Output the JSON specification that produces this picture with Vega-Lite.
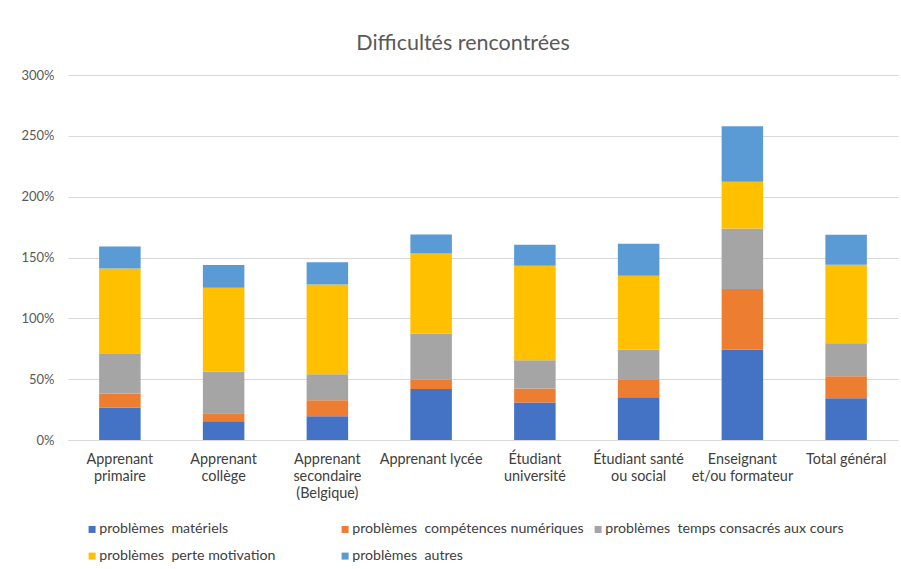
{
  "$schema": "https://vega.github.io/schema/vega-lite/v6.json",
  "width": 830,
  "height": 365,
  "autosize": {"type": "none"},
  "padding": {"left": 68, "top": 75, "right": 3, "bottom": 129},
  "background": "white",
  "title": {
    "text": "Difficultés rencontrées",
    "font": "Lato",
    "fontSize": 21.5,
    "fontWeight": "normal",
    "color": "#595959",
    "anchor": "middle",
    "dx": -20,
    "offset": 15
  },
  "data": {
    "values": [
      {"categorie": "Apprenant\nprimaire", "probleme": "problèmes  matériels", "rang": 1, "valeur": 26.6},
      {"categorie": "Apprenant\nprimaire", "probleme": "problèmes  compétences numériques", "rang": 2, "valeur": 11.6},
      {"categorie": "Apprenant\nprimaire", "probleme": "problèmes  temps consacrés aux cours", "rang": 3, "valeur": 32.4},
      {"categorie": "Apprenant\nprimaire", "probleme": "problèmes  perte motivation", "rang": 4, "valeur": 70.4},
      {"categorie": "Apprenant\nprimaire", "probleme": "problèmes  autres", "rang": 5, "valeur": 18.0},
      {"categorie": "Apprenant\ncollège", "probleme": "problèmes  matériels", "rang": 1, "valeur": 15.4},
      {"categorie": "Apprenant\ncollège", "probleme": "problèmes  compétences numériques", "rang": 2, "valeur": 6.6},
      {"categorie": "Apprenant\ncollège", "probleme": "problèmes  temps consacrés aux cours", "rang": 3, "valeur": 34.3},
      {"categorie": "Apprenant\ncollège", "probleme": "problèmes  perte motivation", "rang": 4, "valeur": 68.9},
      {"categorie": "Apprenant\ncollège", "probleme": "problèmes  autres", "rang": 5, "valeur": 18.7},
      {"categorie": "Apprenant\nsecondaire\n(Belgique)", "probleme": "problèmes  matériels", "rang": 1, "valeur": 19.5},
      {"categorie": "Apprenant\nsecondaire\n(Belgique)", "probleme": "problèmes  compétences numériques", "rang": 2, "valeur": 13.2},
      {"categorie": "Apprenant\nsecondaire\n(Belgique)", "probleme": "problèmes  temps consacrés aux cours", "rang": 3, "valeur": 21.4},
      {"categorie": "Apprenant\nsecondaire\n(Belgique)", "probleme": "problèmes  perte motivation", "rang": 4, "valeur": 73.8},
      {"categorie": "Apprenant\nsecondaire\n(Belgique)", "probleme": "problèmes  autres", "rang": 5, "valeur": 18.1},
      {"categorie": "Apprenant lycée", "probleme": "problèmes  matériels", "rang": 1, "valeur": 42.0},
      {"categorie": "Apprenant lycée", "probleme": "problèmes  compétences numériques", "rang": 2, "valeur": 7.7},
      {"categorie": "Apprenant lycée", "probleme": "problèmes  temps consacrés aux cours", "rang": 3, "valeur": 37.9},
      {"categorie": "Apprenant lycée", "probleme": "problèmes  perte motivation", "rang": 4, "valeur": 65.6},
      {"categorie": "Apprenant lycée", "probleme": "problèmes  autres", "rang": 5, "valeur": 15.7},
      {"categorie": "Étudiant\nuniversité", "probleme": "problèmes  matériels", "rang": 1, "valeur": 30.8},
      {"categorie": "Étudiant\nuniversité", "probleme": "problèmes  compétences numériques", "rang": 2, "valeur": 11.5},
      {"categorie": "Étudiant\nuniversité", "probleme": "problèmes  temps consacrés aux cours", "rang": 3, "valeur": 23.3},
      {"categorie": "Étudiant\nuniversité", "probleme": "problèmes  perte motivation", "rang": 4, "valeur": 77.7},
      {"categorie": "Étudiant\nuniversité", "probleme": "problèmes  autres", "rang": 5, "valeur": 17.1},
      {"categorie": "Étudiant santé\nou social", "probleme": "problèmes  matériels", "rang": 1, "valeur": 35.2},
      {"categorie": "Étudiant santé\nou social", "probleme": "problèmes  compétences numériques", "rang": 2, "valeur": 14.8},
      {"categorie": "Étudiant santé\nou social", "probleme": "problèmes  temps consacrés aux cours", "rang": 3, "valeur": 24.1},
      {"categorie": "Étudiant santé\nou social", "probleme": "problèmes  perte motivation", "rang": 4, "valeur": 61.0},
      {"categorie": "Étudiant santé\nou social", "probleme": "problèmes  autres", "rang": 5, "valeur": 26.3},
      {"categorie": "Enseignant\net/ou formateur", "probleme": "problèmes  matériels", "rang": 1, "valeur": 74.1},
      {"categorie": "Enseignant\net/ou formateur", "probleme": "problèmes  compétences numériques", "rang": 2, "valeur": 50.0},
      {"categorie": "Enseignant\net/ou formateur", "probleme": "problèmes  temps consacrés aux cours", "rang": 3, "valeur": 49.7},
      {"categorie": "Enseignant\net/ou formateur", "probleme": "problèmes  perte motivation", "rang": 4, "valeur": 38.4},
      {"categorie": "Enseignant\net/ou formateur", "probleme": "problèmes  autres", "rang": 5, "valeur": 45.6},
      {"categorie": "Total général", "probleme": "problèmes  matériels", "rang": 1, "valeur": 34.3},
      {"categorie": "Total général", "probleme": "problèmes  compétences numériques", "rang": 2, "valeur": 18.2},
      {"categorie": "Total général", "probleme": "problèmes  temps consacrés aux cours", "rang": 3, "valeur": 27.1},
      {"categorie": "Total général", "probleme": "problèmes  perte motivation", "rang": 4, "valeur": 64.5},
      {"categorie": "Total général", "probleme": "problèmes  autres", "rang": 5, "valeur": 24.5}
    ]
  },
  "mark": {"type": "bar"},
  "encoding": {
    "x": {
      "field": "categorie",
      "type": "nominal",
      "sort": null,
      "scale": {"paddingInner": 0.6, "paddingOuter": 0.3},
      "axis": {
        "title": null,
        "labelAngle": 0,
        "labelExpr": "split(datum.label, '\\n')",
        "labelFont": "Lato",
        "labelFontSize": 14.4,
        "labelColor": "#404040",
        "labelLineHeight": 17,
        "labelPadding": 12,
        "labelLimit": 0,
        "ticks": false,
        "domain": true,
        "domainColor": "#d9d9d9",
        "domainWidth": 1
      }
    },
    "y": {
      "field": "valeur",
      "type": "quantitative",
      "stack": "zero",
      "scale": {"domain": [0, 300], "nice": false},
      "axis": {
        "title": null,
        "values": [0, 50, 100, 150, 200, 250, 300],
        "labelExpr": "datum.value + '%'",
        "labelFont": "Lato",
        "labelFontSize": 13,
        "labelColor": "#595959",
        "labelPadding": 14,
        "ticks": false,
        "domain": false,
        "grid": true,
        "gridColor": "#d9d9d9",
        "gridWidth": 1
      }
    },
    "color": {
      "field": "probleme",
      "type": "nominal",
      "sort": null,
      "scale": {
        "domain": ["problèmes  matériels", "problèmes  compétences numériques", "problèmes  temps consacrés aux cours", "problèmes  perte motivation", "problèmes  autres"],
        "range": ["#4472c4", "#ed7d31", "#a5a5a5", "#ffc000", "#5b9bd5"]
      },
      "legend": {
        "title": null,
        "orient": "none",
        "legendX": 17,
        "legendY": 447,
        "direction": "horizontal",
        "columns": 3,
        "gridAlign": "all",
        "columnPadding": 0,
        "rowPadding": 12,
        "symbolType": "square",
        "symbolSize": 49,
        "symbolStrokeWidth": 0,
        "labelOffset": 0,
        "labelExpr": "replace(datum.label, '  ', '\u00a0 ')",
        "labelFont": "Lato",
        "labelFontSize": 14.2,
        "labelColor": "#404040",
        "labelLimit": 0
      }
    },
    "order": {"field": "rang", "type": "quantitative", "sort": "ascending"}
  },
  "config": {
    "view": {"stroke": null}
  }
}
